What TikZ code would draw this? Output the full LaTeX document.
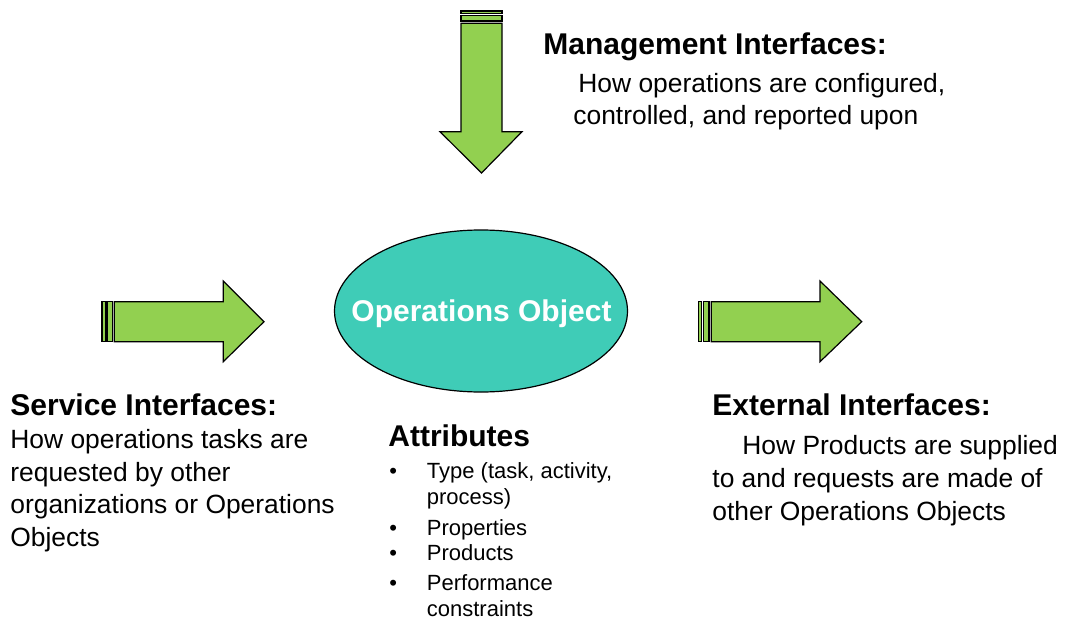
\documentclass[tikz,border=0pt]{standalone}
\usepackage{fontspec}
\setmainfont{Liberation Sans}

\definecolor{arrowgreen}{HTML}{92D050}
\definecolor{objteal}{HTML}{3FCCB7}

\begin{document}
\begin{tikzpicture}[x=0.5pt,y=-0.5pt,
    block/.style={draw=black, line width=0.6pt, fill=arrowgreen, line join=miter},
    heading/.style={anchor=base west, inner sep=0pt, font=\fontsize{15}{18}\selectfont\bfseries},
    body/.style={anchor=base west, inner sep=0pt, align=left, font=\fontsize{13.2}{16.4}\selectfont},
    item/.style={anchor=base west, inner sep=0pt, align=left, font=\fontsize{11}{13}\selectfont},
    objtext/.style={anchor=base, inner sep=0pt, text=white, font=\fontsize{15}{18}\selectfont\bfseries}]
    \useasboundingbox (0,0) rectangle (1070,626);

    % Management interfaces: arrow coming down from the top
    \draw[block] (461,11) rectangle (502,13.3);
    \draw[block] (461,15.7) rectangle (502,21);
    \draw[block] (461,23.3) -- (502,23.3) -- (502,131.7) -- (522,131.7)
        -- (481.5,173) -- (440,131.7) -- (461,131.7) -- cycle;

    % Service interfaces: arrow on the left
    \draw[block] (102,301.7) rectangle (105.3,341.7);
    \draw[block] (107,301.7) rectangle (112.3,341.7);
    \draw[block] (114.3,301.7) -- (223.3,301.7) -- (223.3,281) -- (264,321.7)
        -- (223.3,361.7) -- (223.3,341.7) -- (114.3,341.7) -- cycle;

    % External interfaces: arrow on the right
    \draw[block] (698.3,301.7) rectangle (701.7,341.7);
    \draw[block] (703.7,301.7) rectangle (709,341.7);
    \draw[block] (711.3,301.7) -- (820,301.7) -- (820,281) -- (861.7,321.7)
        -- (820,361.7) -- (820,341.7) -- (711.3,341.7) -- cycle;

    % The object itself
    \draw[fill=objteal, line width=0.6pt] (481,311) ellipse [x radius=146.5, y radius=81];
    \node[objtext] (obj) at (481.5,321.5) {Operations Object};

    % Texts (multi-line nodes sit on the baseline of their last line)
    \node[heading] (mgmt) at (543,54.3) {Management Interfaces:};
    \node[body] (mgmttxt) at (573,125) {\hspace*{2.5pt}How operations are configured,\\controlled, and reported upon};

    \node[heading] (serv) at (10,415) {Service Interfaces:};
    \node[body] (servtxt) at (10,546.7) {How operations tasks are\\requested by other\\organizations or Operations\\Objects};

    \node[heading] (ext) at (712,415) {External Interfaces:};
    \node[body] (exttxt) at (712,520) {\hspace*{15pt}How Products are supplied\\to and requests are made of\\other Operations Objects};

    \node[heading] (attr) at (388,446.7) {Attributes};
    \foreach \by/\y/\txt [count=\i] in {478.3/504.3/{Type (task, activity,\\process)}, 535/535/Properties, 560/560/Products, 590/616.7/{Performance\\constraints}} {
        \node[item] (bul\i) at (389,\by) {\textbullet};
        \node[item] (attr\i) at (426.5,\y) {\txt};
    }
\end{tikzpicture}
\end{document}
